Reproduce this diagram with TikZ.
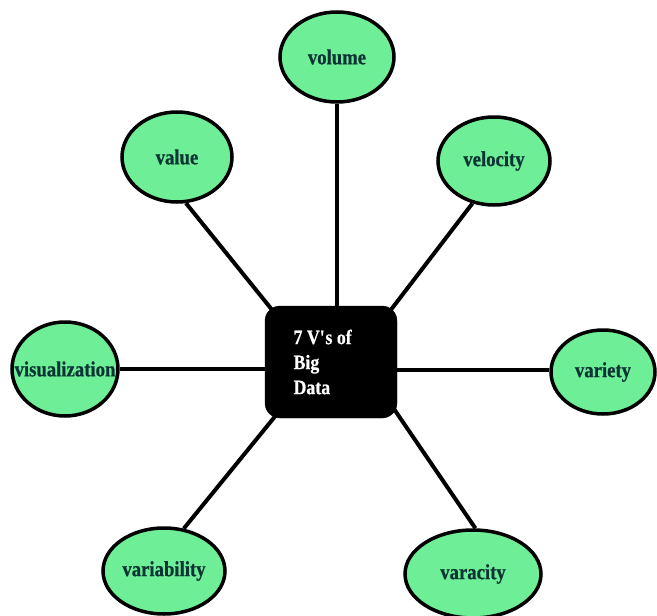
\documentclass[tikz,border=0pt]{standalone}
\usepackage{fontspec}
\setmainfont{Liberation Serif}
\newfontfamily\vfont[FakeStretch=0.87,FakeBold=0.6]{Liberation Serif}
\usetikzlibrary{shapes.geometric}
\definecolor{vfill}{RGB}{110,238,150}
\definecolor{vtext}{RGB}{12,52,52}
\tikzset{
  vnode/.style={ellipse, draw=black, line width=3.5pt, fill=vfill, inner sep=0pt,
    text=vtext, font=\vfont\fontsize{21.5}{23}\selectfont\bfseries},
  hub/.style={rectangle, rounded corners=15pt, fill=black, draw=black, inner sep=0pt,
    minimum width=132pt, minimum height=112pt},
  spoke/.style={line width=4pt, black}
}
\newcommand{\vlab}[1]{\makebox[0pt]{#1}}
\begin{document}
\begin{tikzpicture}[x=1pt,y=-1pt]
\useasboundingbox (0,0) rectangle (657,616);
\clip (0,0) rectangle (657,616);
\coordinate (nw) at (273,311);
\coordinate (ne) at (390,311);
\coordinate (sw) at (277,414);
\coordinate (se) at (394,409);
\node[vnode, minimum width=114pt, minimum height=90pt] (vol) at (337,57) {\vlab{volume}};
\node[vnode, minimum width=110pt, minimum height=90pt] (val) at (177,157) {\vlab{value}};
\node[vnode, minimum width=112pt, minimum height=88pt] (vel) at (494,161) {\vlab{velocity}};
\node[vnode, minimum width=106pt, minimum height=94pt] (vis) at (65,369) {\vlab{visualization}};
\node[vnode, minimum width=104pt, minimum height=84pt] (vry) at (603,372) {\vlab{variety}};
\node[vnode, minimum width=122pt, minimum height=86pt] (vab) at (164,571) {\vlab{variability}};
\node[vnode, minimum width=136pt, minimum height=88pt] (vac) at (473,574) {\vlab{varacity}};
\draw[spoke] (vol.south) -- (vol.south |- 0,310);
\draw[spoke] (val.-79) -- (nw);
\draw[spoke] (vel.-117) -- (ne);
\draw[spoke] (vis.east |- 0,369) -- (267,369);
\draw[spoke] (vry.west |- 0,370) -- (395,370);
\draw[spoke] (vab.65) -- (sw);
\draw[spoke] (vac.87) -- (se);
\node[hub] (c) at (331,362) {};
\node[anchor=west, align=left, text=white, font=\vfont\fontsize{20.5}{25}\selectfont\bfseries] (ct) at (290,362) {7 V\textquotesingle s of\\Big\\Data};
\end{tikzpicture}
\end{document}
